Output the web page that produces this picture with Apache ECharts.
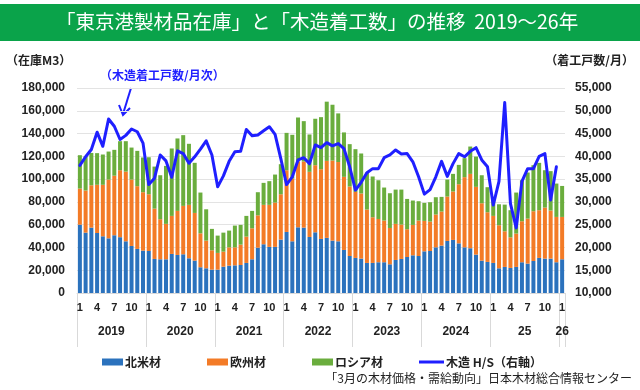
<!DOCTYPE html>
<html><head><meta charset="utf-8">
<script src="https://cdn.jsdelivr.net/npm/echarts@6/dist/echarts.min.js"></script>
<style>html,body{margin:0;padding:0;background:#fff}#c{width:640px;height:390px}</style>
</head><body><div id="c"></div>
<script>
const years = [2019, 2020, 2021, 2022, 2023, 2024, 2025, 2026];
const yearLabels = ['2019', '2020', '2021', '2022', '2023', '2024', '25', '26'];
const monthsShown = [1, 4, 7, 10];
const seriesNames = ['北米材', '欧州材', 'ロシア材', '木造 H/S（右軸）'];

// 北米材 (m3)
const northAmerica = [
  60000, 53000, 57400, 52700, 49800, 48000, 50700, 49000, 45400, 41300, 38700, 37200,
  36900, 29900, 29600, 29600, 34300, 33400, 34000, 30500, 28400, 22600, 21700, 20500,
  20500, 23100, 24000, 24300, 24600, 26400, 29600, 39800, 42800, 40500, 40500, 46900,
  53600, 45400, 57700, 57400, 49200, 53300, 47500, 48400, 46000, 45400, 37800, 32500,
  30800, 30200, 26400, 26400, 27000, 27000, 25200, 29000, 29900, 31600, 33100, 32500,
  36600, 36900, 40100, 41600, 45700, 46600, 43600, 40100, 39300, 33700, 28400, 27300,
  26400, 21700, 22900, 22000, 22900, 27000, 25800, 28100, 30800, 30200, 30200, 27000,
  29600
];
// 欧州材 (m3)
const europe = [
  31700, 37000, 37200, 42300, 45200, 51600, 52300, 58800, 61200, 58300, 55100, 51300,
  49800, 44200, 35200, 31100, 33400, 38700, 42500, 46900, 41900, 29800, 24300, 17000,
  14700, 13200, 16100, 15800, 17900, 23100, 27200, 28400, 34600, 36900, 38900, 39800,
  54200, 55100, 57800, 58100, 57200, 58900, 61200, 67600, 70300, 69600, 64200, 61000,
  58000, 57200, 46900, 40100, 38000, 36600, 31900, 31700, 30200, 24400, 26700, 31100,
  26700, 25800, 28800, 29900, 39000, 42500, 51900, 61600, 65300, 59500, 50400, 43600,
  41300, 37800, 31300, 26900, 29300, 36000, 39500, 43700, 41900, 44800, 42200, 39800,
  37200
];
// ロシア材 (m3)
const russia = [
  29300, 30000, 28400, 27800, 26600, 24600, 22700, 25500, 26700, 28100, 31000, 30500,
  32500, 36900, 38600, 50900, 59200, 63600, 62100, 53600, 44000, 35800, 27500, 18800,
  15200, 16700, 14700, 19100, 17300, 18200, 15300, 20300, 19300, 20800, 24600, 26400,
  32800, 38400, 38600, 35400, 32800, 40800, 45700, 52000, 49000, 42700, 39000, 37200,
  37500, 35100, 32500, 35800, 34000, 29000, 30500, 30100, 30700, 26600, 21400, 17000,
  15800, 17000, 15200, 12900, 14900, 15500, 17000, 16700, 24000, 26600, 24600, 22000,
  16700, 18400, 23400, 23800, 36000, 36000, 40500, 40400, 41600, 32800, 34600, 29300,
  27200
];
// 木造 H/S 着工戸数/月
const housingStarts = [
  38000, 39900, 41500, 45300, 42200, 48200, 46600, 43700, 44600, 46000, 45400, 42900,
  33800, 35200, 40300, 39000, 35400, 41200, 40600, 38500, 39900, 41600, 43400, 40300,
  33300, 35700, 38900, 41000, 41100, 45900, 44500, 44700, 45600, 46500, 44800, 39500,
  33800, 35500, 39200, 39700, 38400, 42500, 41900, 43000, 42300, 42800, 41700, 37700,
  32600, 34300, 36400, 37300, 37300, 39700, 40300, 41400, 40500, 40600, 38800, 35500,
  31700, 32700, 35500, 38900, 35600, 38400, 40600, 39900, 41100, 41900, 39200, 37700,
  29300, 34500, 51800, 29600, 24300, 34500, 37300, 37300, 40000, 40600, 30400, 37700,
  null
];

const categories = [];
years.forEach(y => {
  for (let m = 1; m <= 12; m++) {
    if (y === 2026 && m > 1) break;
    categories.push(y + '-' + m);
  }
});

const FONT = "'Liberation Sans', 'Noto Sans CJK JP', sans-serif";
const JP = "'Noto Sans CJK JP', 'Liberation Sans', sans-serif";
const TXT = '#222';
const C_BLUE = '#2b72bd', C_ORANGE = '#f37b27', C_GREEN = '#6aad3d', C_LINE = '#1f1fff';

const chart = echarts.init(document.getElementById('c'), null, { renderer: 'canvas' });

function legendAt(name, left, opts) {
  return Object.assign({
    data: [name], left: left, top: 351, itemWidth: 21, itemHeight: 7, itemGap: 0,
    icon: 'rect', selectedMode: false,
    textStyle: { fontFamily: JP, fontWeight: 'bold', fontSize: 12, color: TXT, padding: [0, 0, 0, -3] }
  }, opts || {});
}

chart.setOption({
  animation: false,
  backgroundColor: '#fff',
  textStyle: { fontFamily: FONT },
  grid: { left: 77, right: 75, top: 88, bottom: 97, containLabel: false },
  legend: [
    legendAt(seriesNames[0], 97),
    legendAt(seriesNames[1], 202),
    legendAt(seriesNames[2], 307),
    legendAt(seriesNames[3], 414, { itemWidth: 25, itemHeight: 3 })
  ],
  xAxis: [
    {
      type: 'category', data: categories, boundaryGap: true,
      axisLine: { lineStyle: { color: '#d9d9d9' } },
      axisTick: { show: false },
      axisLabel: {
        interval: 0, margin: 9, fontSize: 11, fontWeight: 'bold', color: TXT, fontFamily: FONT,
        formatter: v => { const m = +v.split('-')[1]; return monthsShown.includes(m) ? String(m) : ''; }
      }
    },
    {
      type: 'category', data: categories, boundaryGap: true, position: 'bottom',
      axisLine: { show: false },
      axisTick: { show: true, length: 54, interval: (i) => i % 12 === 0, lineStyle: { color: '#d9d9d9' } },
      axisLabel: {
        interval: (i) => i % 12 === 6 || i === categories.length - 1,
        margin: 33, fontSize: 12, fontWeight: 'bold', color: TXT, fontFamily: FONT,
        formatter: (v, i) => {
          const y = +v.split('-')[0];
          const lab = yearLabels[years.indexOf(y)];
          return i === categories.length - 1 ? '{b|' + lab + '}' : '{a|' + lab + '}';
        },
        rich: {
          a: { fontSize: 12, fontWeight: 'bold', color: TXT, fontFamily: FONT, padding: [0, 6, 0, 0] },
          b: { fontSize: 12, fontWeight: 'bold', color: TXT, fontFamily: FONT }
        }
      }
    }
  ],
  yAxis: [
    {
      type: 'value', min: 0, max: 180000, interval: 20000,
      axisLine: { show: false }, axisTick: { show: false },
      splitLine: { lineStyle: { color: '#e3e3e3' } },
      axisLabel: {
        margin: 12, fontSize: 12, fontWeight: 'bold', color: TXT, fontFamily: FONT,
        formatter: v => v.toLocaleString('en-US')
      }
    },
    {
      type: 'value', min: 10000, max: 55000, interval: 5000,
      axisLine: { show: false }, axisTick: { show: false }, splitLine: { show: false },
      axisLabel: {
        margin: 10, fontSize: 12, fontWeight: 'bold', color: TXT, fontFamily: FONT,
        formatter: v => v.toLocaleString('en-US')
      }
    }
  ],
  series: [
    { name: seriesNames[0], type: 'bar', stack: 'inv', data: northAmerica, barWidth: 4, itemStyle: { color: C_BLUE } },
    { name: seriesNames[1], type: 'bar', stack: 'inv', data: europe, barWidth: 4, itemStyle: { color: C_ORANGE } },
    { name: seriesNames[2], type: 'bar', stack: 'inv', data: russia, barWidth: 4, itemStyle: { color: C_GREEN } },
    {
      name: seriesNames[3], type: 'line', yAxisIndex: 1, data: housingStarts,
      symbol: 'none', showSymbol: false, z: 5,
      lineStyle: { color: C_LINE, width: 3, join: 'round', cap: 'round' },
      itemStyle: { color: C_LINE }
    }
  ],
  graphic: [
    { type: 'rect', left: 0, top: 4, shape: { width: 640, height: 37 }, style: { fill: '#0aa34a' }, silent: true },
    {
      type: 'text', left: 56, top: 12,
      style: { text: '「東京港製材品在庫」と「木造着工数」の推移  2019～26年', fill: '#fff', fontSize: 19.5, fontFamily: JP }
    },
    { type: 'text', left: 6, top: 54, style: { text: '（在庫M3）', fill: TXT, fontSize: 12, fontWeight: 'bold', fontFamily: JP } },
    { type: 'text', right: 6, top: 54, style: { text: '（着工戸数/月）', fill: TXT, fontSize: 12, fontWeight: 'bold', fontFamily: JP } },
    { type: 'text', left: 100, top: 69, style: { text: '（木造着工戸数/月次）', fill: C_LINE, fontSize: 12, fontWeight: 'bold', fontFamily: JP } },
    { type: 'line', shape: { x1: 131, y1: 88, x2: 123, y2: 114 }, style: { stroke: C_LINE, lineWidth: 2 } },
    { type: 'polyline', shape: { points: [[119, 105], [123, 115], [130, 108]] }, style: { stroke: C_LINE, lineWidth: 2, fill: null } },
    {
      type: 'text', right: 8, top: 372,
      style: { text: '「3月の木材価格・需給動向」日本木材総合情報センター', fill: TXT, fontSize: 12, fontFamily: JP }
    }
  ]
});
</script>
</body></html>
